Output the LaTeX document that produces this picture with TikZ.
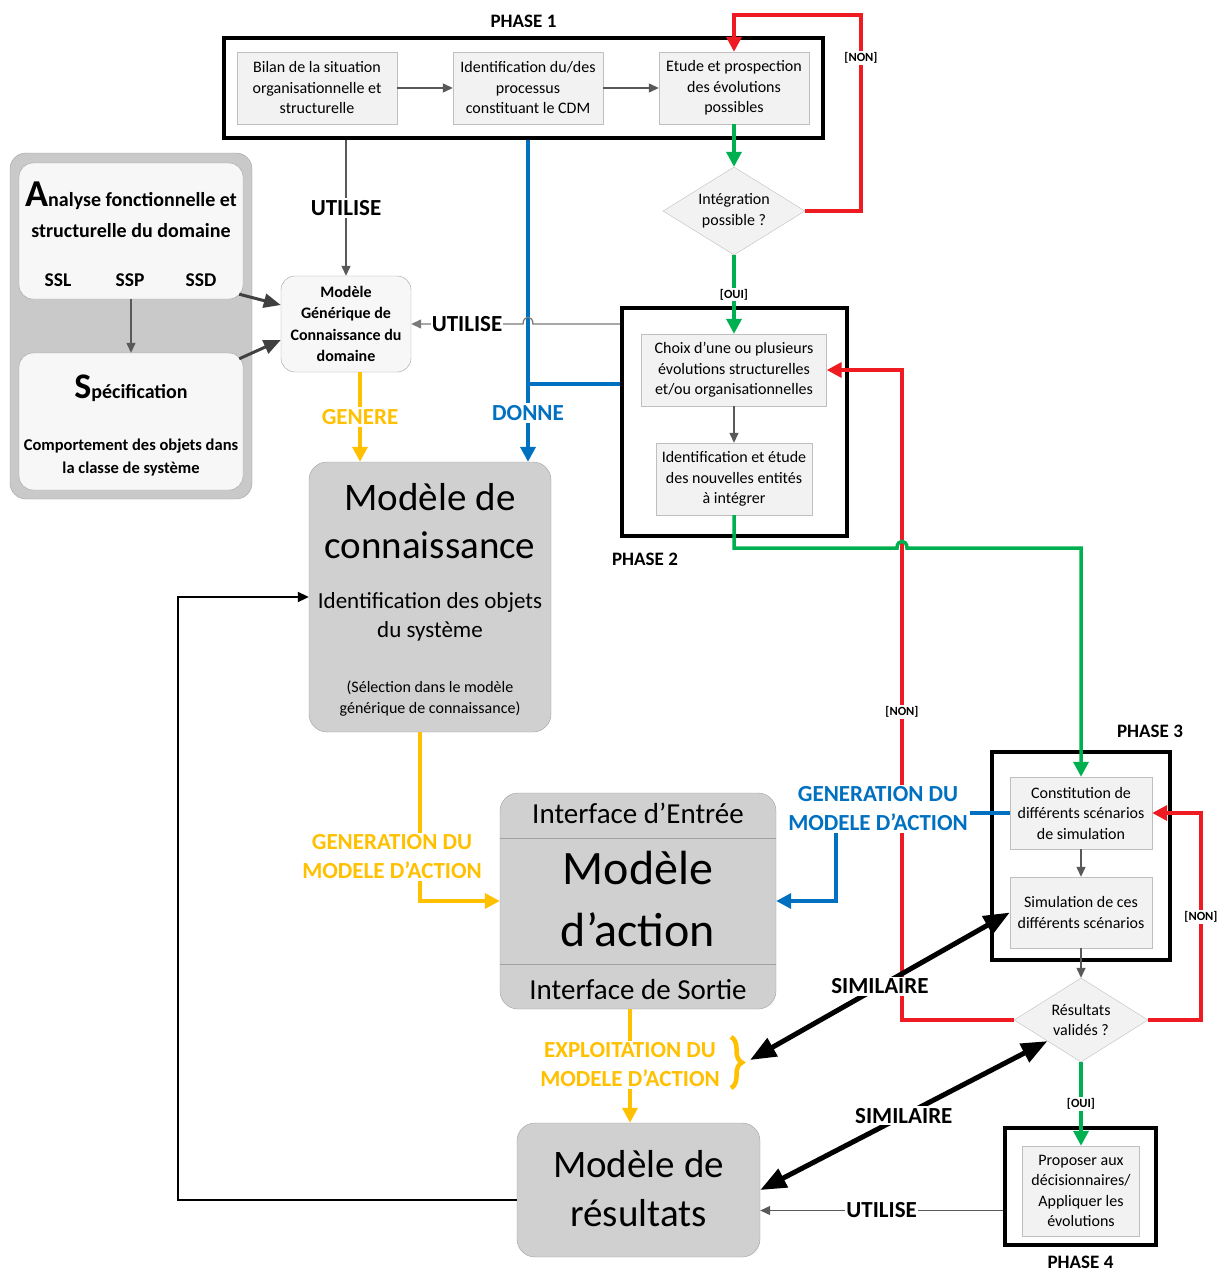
\documentclass[tikz,border=0pt]{standalone}
\usepackage{fontspec}
\setmainfont{Carlito}
\usetikzlibrary{positioning,shapes.geometric,arrows.meta,decorations.pathreplacing}
\definecolor{FlowRed}{HTML}{EE1B22}
\definecolor{FlowGreen}{HTML}{00B050}
\definecolor{FlowBlue}{HTML}{0070C0}
\definecolor{FlowGold}{HTML}{FFC000}
\definecolor{LinkGray}{HTML}{595959}
\definecolor{DarkLink}{HTML}{404040}
\definecolor{BoxFill}{HTML}{F2F2F2}
\definecolor{BoxLine}{HTML}{BFBFBF}
\definecolor{SoftFill}{HTML}{F7F7F7}
\definecolor{ModelFill}{HTML}{D0D0D0}
\definecolor{ModelLine}{HTML}{A0A0A0}
\definecolor{PanelFill}{HTML}{C9C9C9}
\newcommand\fsz[2]{\fontsize{#1}{#2}\selectfont}

\begin{document}
\begin{tikzpicture}[x=1pt, y=-1pt,
  procbox/.style={draw=BoxLine, fill=BoxFill, align=center, inner sep=0pt, font=\fsz{16}{20.5}},
  decision/.style={diamond, aspect=1.6, draw=BoxLine, fill=BoxFill, align=center, inner sep=0pt, font=\fsz{16}{20.5}},
  phasebox/.style={draw=black, line width=4pt, inner sep=0pt},
  phaselab/.style={font=\bfseries\fsz{19}{21}, inner sep=0pt},
  softbox/.style={draw=ModelLine, fill=SoftFill, rounded corners=14pt, inner sep=0pt},
  modelbox/.style={draw=ModelLine, fill=ModelFill, rounded corners=18pt, inner sep=0pt},
  lab/.style={font=\bfseries\fsz{23}{29}, fill=white, inner sep=2pt, align=center},
  tag/.style={font=\bfseries\fsz{12.5}{14}, text=black, fill=white, inner sep=1.5pt},
  link/.style={draw=LinkGray, line width=1.3pt, -{Triangle[length=10pt,width=9pt]}},
  darklink/.style={draw=DarkLink, line width=3pt, -{Triangle[length=17pt,width=14pt]}},
  flow/.style={line width=3.5pt, -{Triangle[length=15pt,width=15pt]}},
  similar/.style={line width=5pt, {Triangle[length=26pt,width=20pt]}-{Triangle[length=26pt,width=20pt]}}]
  \path[use as bounding box, fill=white] (0,0) rectangle (1222,1271);

  \node[phasebox, minimum width=599pt, minimum height=100pt] (phaseA) at (523.5,88) {};
  \node[phasebox, minimum width=225pt, minimum height=228pt] (phaseB) at (734.5,422) {};
  \node[phasebox, minimum width=178pt, minimum height=208pt] (phaseC) at (1081,856) {};
  \node[phasebox, minimum width=151pt, minimum height=117pt] (phaseD) at (1080.5,1186.5) {};
  \node[phaselab, above=8pt of phaseA] (phaseAlab) {PHASE 1};
  \node[phaselab] (phaseBlab) at (645,559) {PHASE 2};
  \node[phaselab] (phaseClab) at (1150,731) {PHASE 3};
  \node[phaselab, below=9pt of phaseD] (phaseDlab) {PHASE 4};

  \node[procbox, minimum width=160pt, minimum height=72pt] (bilan) at (317,88) {Bilan de la situation\\organisationnelle et\\structurelle};
  \node[procbox, minimum width=150pt, minimum height=72pt] (ident) at (528,88) {Identification du/des\\processus\\constituant le CDM};
  \node[procbox, minimum width=150pt, minimum height=72pt] (etude) at (734,88) {Etude et prospection\\des évolutions\\possibles};
  \node[decision, minimum width=142pt, minimum height=88pt] (integ) at (734,211) {Intégration\\possible ?};
  \node[procbox, minimum width=185pt, minimum height=72pt] (choix) at (734,370) {Choix d’une ou plusieurs\\évolutions structurelles\\et/ou organisationnelles};
  \node[procbox, minimum width=156pt, minimum height=72pt] (nouv) at (734,479) {Identification et étude\\des nouvelles entités\\à intégrer};
  \node[procbox, minimum width=142pt, minimum height=72pt] (constit) at (1081,813) {Constitution de\\différents scénarios\\de simulation};
  \node[procbox, minimum width=142pt, minimum height=71pt] (simul) at (1081,912.5) {Simulation de ces\\différents scénarios};
  \node[decision, minimum width=134pt, minimum height=84pt] (valid) at (1081,1020) {Résultats\\validés ?};
  \node[procbox, minimum width=117pt, minimum height=90pt] (propo) at (1081,1191) {Proposer aux\\décisionnaires/\\Appliquer les\\évolutions};

  \node[draw=ModelLine, fill=PanelFill, rounded corners=16pt, minimum width=242pt, minimum height=346pt] (panel) at (131,326) {};
  \node[softbox, minimum width=224pt, minimum height=136pt] (analyse) at (131,231) {};
  \node[softbox, minimum width=224pt, minimum height=137pt] (specif) at (131,421.5) {};
  \node[font=\bfseries\fsz{20}{31}, align=center] (analyseT) at (131,210) {{\fsz{38}{38}A}nalyse fonctionnelle et\\structurelle du domaine};
  \node[font=\bfseries\fsz{19.5}{22}] (ssl) at (58,280) {SSL};
  \node[font=\bfseries\fsz{19.5}{22}] (ssp) at (130,280) {SSP};
  \node[font=\bfseries\fsz{19.5}{22}] (ssd) at (201,280) {SSD};
  \node[font=\bfseries\fsz{20}{22}] (specifT) at (131,388) {{\fsz{36}{36}S}pécification};
  \node[font=\bfseries\fsz{16.5}{23}, align=center] (specifS) at (131,458) {Comportement des objets dans\\la classe de système};
  \node[softbox, minimum width=130pt, minimum height=96pt, font=\bfseries\fsz{16}{21.5}, align=center] (mgc) at (346,324) {Modèle\\Générique de\\Connaissance du\\domaine};

  \node[modelbox, minimum width=242pt, minimum height=270pt] (mconn) at (430,597) {};
  \node[font=\fsz{39}{48}, align=center] (mconnT) at (430,521) {Modèle de\\connaissance};
  \node[font=\fsz{23}{29}, align=center] (mconnS) at (430,617) {Identification des objets\\du système};
  \node[font=\fsz{16}{21}, align=center] (mconnN) at (430,699) {(Sélection dans le modèle\\générique de connaissance)};

  \node[modelbox, minimum width=276pt, minimum height=216pt] (maction) at (638,901) {};
  \draw[ModelLine, line width=1pt] (maction.west |- 0,838) -- (maction.east |- 0,838);
  \draw[ModelLine, line width=1pt] (maction.west |- 0,964) -- (maction.east |- 0,964);
  \node[font=\fsz{29}{34}] (inEntree) at (638,813) {Interface d’Entrée};
  \node[font=\fsz{48}{62}, align=center] (mactionT) at (638,899) {Modèle\\d’action};
  \node[font=\fsz{29}{34}] (inSortie) at (638,989.5) {Interface de Sortie};

  \node[modelbox, minimum width=243pt, minimum height=134pt] (mres) at (638.5,1190) {};
  \node[font=\fsz{39}{49}, align=center] (mresT) at (638.5,1189) {Modèle de\\résultats};

  \draw[link] (bilan) -- (ident);
  \draw[link] (ident) -- (etude);
  \draw[flow, FlowGreen] (etude) -- (integ);
  \draw[flow, FlowRed] (integ.east) -| (861,15) -| (etude.north);
  \node[tag] (nonA) at (861,58) {[NON]};
  \draw[flow, FlowGreen] (integ) -- (choix) node[tag, midway] (ouiA) {[OUI]};
  \draw[link] (choix) -- (nouv);
  \draw[flow, FlowRed] (valid.west) -| (902,370) -- (choix.east);
  \node[tag] (nonB) at (902,712) {[NON]};
  \draw[flow, FlowGreen] (nouv.south) |- (897,548) .. controls (897,539) and (907,539) .. (907,548) -| (constit.north);
  \draw[link] (constit) -- (simul);
  \draw[link] (simul) -- (valid);
  \draw[flow, FlowRed] (valid.east) -| (1201,813) -- (constit.east);
  \node[tag] (nonC) at (1201,917) {[NON]};
  \draw[flow, FlowGreen] (valid) -- (propo) node[tag, midway] (ouiB) {[OUI]};

  \coordinate (utilD) at ([yshift=-24pt]phaseD.west);
  \draw[link, line width=1pt] (utilD) -- (utilD -| mres.east) node[lab, midway, inner sep=1pt] (utilDlab) {UTILISE};
  \draw[link] (phaseA.south -| mgc.north) -- (mgc.north) node[lab, midway] (utilAlab) {UTILISE};

  \coordinate (donneY) at (0,384);
  \draw[flow, FlowBlue, line width=4pt] (phaseA.south -| ident.south) -- (ident.south |- mconn.north);
  \draw[FlowBlue, line width=4pt] (donneY -| ident.south) -- (donneY -| phaseB.west);
  \node[lab, text=FlowBlue] (donne) at (528,413) {DONNE};
  \draw[link, draw=LinkGray!80] (phaseB.west |- mgc.east) -- (533,324) .. controls (533,315) and (523,315) .. (523,324) -- (mgc.east);
  \node[lab, inner sep=1pt] (utilBlab) at (467,324) {UTILISE};

  \draw[darklink] ([shift={(-4pt,5pt)}]analyse.south east) -- ([yshift=19pt]mgc.west);
  \draw[darklink] ([shift={(-4pt,-6pt)}]specif.north east) -- ([yshift=-16pt]mgc.west);
  \draw[link] (analyse) -- (specif);

  \coordinate (genX) at (360,0);
  \draw[flow, FlowGold] (mgc.south -| genX) -- (mconn.north -| genX) node[lab, midway, text=FlowGold] (genere) {GENERE};
  \coordinate (gaX) at (420,0);
  \draw[flow, FlowGold] (mconn.south -| gaX) |- (maction.west);
  \node[lab, text=FlowGold] (genA) at (392,857) {GENERATION DU\\MODELE D’ACTION};
  \draw[flow, FlowBlue] (constit.west) -| (836,901) -- (maction.east);
  \node[lab, text=FlowBlue] (genB) at (878,809) {GENERATION DU\\MODELE D’ACTION};
  \coordinate (exX) at (630,0);
  \draw[flow, FlowGold] (maction.south -| exX) -- (mres.north -| exX);
  \node[lab, text=FlowGold] (exploit) at (630,1065) {EXPLOITATION DU\\MODELE D’ACTION};
  \draw[FlowGold, line width=4.5pt, decorate, decoration={brace, amplitude=11pt}] (731,1037) -- (731,1088);
  \coordinate (braceTip) at (750,1060);

  \draw[black, line width=2pt, -{Triangle[length=11pt,width=10pt]}] ([yshift=-10pt]mres.west) -| (178,597) -- (mconn.west);
  \draw[similar] (braceTip) -- (simul.west) node[lab, midway] (simA) {SIMILAIRE};
  \draw[similar] (mres.east) -- (valid.south west) node[lab, midway] (simB) {SIMILAIRE};
\end{tikzpicture}
\end{document}
